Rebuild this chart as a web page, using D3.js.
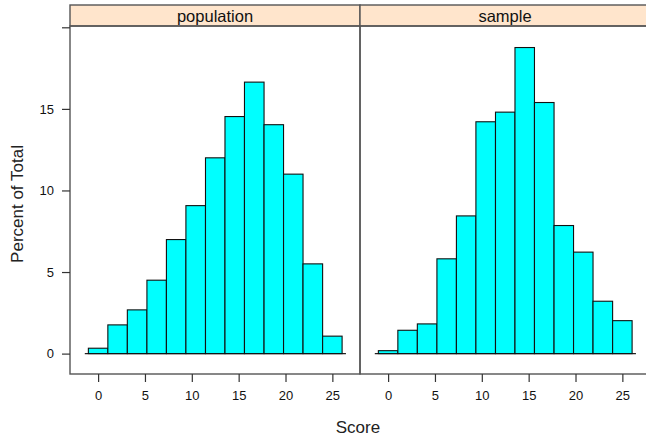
<!DOCTYPE html>
<html><head><meta charset="utf-8">
<script src="https://cdn.jsdelivr.net/npm/d3@7"></script>
<style>html,body{margin:0;padding:0;background:#fff;overflow:hidden}svg{display:block;font-family:"Liberation Sans",Arial,sans-serif}</style>
</head><body>
<svg id="c" width="646" height="439"></svg>
<script>
const panels = ["population", "sample"];
const binEdges = [-1.04, 1.04, 3.12, 5.21, 7.29, 9.37, 11.46, 13.54, 15.62, 17.71, 19.79, 21.87, 23.96, 26.04];
const populationPct = [0.33, 1.76, 2.68, 4.5, 6.99, 9.07, 12.0, 14.53, 16.64, 14.03, 11.0, 5.5, 1.07];
const samplePct = [0.18, 1.43, 1.82, 5.81, 8.44, 14.21, 14.8, 18.76, 15.39, 7.85, 6.22, 3.21, 2.02];
const xTicks = [0, 5, 10, 15, 20, 25];
const yTicks = [0, 5, 10, 15, 20];
const yTickLabels = ["0", "5", "10", "15", ""];
const seriesByPanel = [populationPct, samplePct];

const svg = d3.select("#c");
const panelW = 290, x0 = 70;
const plotTop = 5, stripH = 21, plotBottom = 374;
const y = d3.scaleLinear().domain([-1.25, 20.08]).range([plotBottom, plotTop + stripH]);

panels.forEach((name, i) => {
  const left = x0 + i * panelW;
  const x = d3.scaleLinear().domain([-3.0, 27.95]).range([left, left + panelW]);
  const g = svg.append("g");
  const vals = seriesByPanel[i];
  const bins = vals.map((v, k) => ({x0: binEdges[k], x1: binEdges[k + 1], v}));

  g.append("line")
    .attr("x1", x(-1.42)).attr("x2", x(26.45))
    .attr("y1", y(0)).attr("y2", y(0))
    .attr("stroke", "#222").attr("stroke-width", 1.3);

  g.selectAll("rect.bar").data(bins).join("rect")
    .attr("class", "bar")
    .attr("x", d => x(d.x0)).attr("width", d => x(d.x1) - x(d.x0))
    .attr("y", d => y(d.v)).attr("height", d => y(0) - y(d.v))
    .attr("fill", "#00FFFF").attr("stroke", "#111").attr("stroke-width", 1.1);

  g.append("rect").attr("x", left).attr("y", plotTop).attr("width", panelW).attr("height", stripH)
    .attr("fill", "#FFE5CC").attr("stroke", "#555").attr("stroke-width", 1.4);
  g.append("text").attr("x", left + panelW / 2).attr("y", plotTop + 17)
    .attr("text-anchor", "middle").attr("font-size", 16.5).attr("fill", "#111").text(name);

  g.append("rect").attr("x", left).attr("y", plotTop + stripH).attr("width", panelW).attr("height", plotBottom - plotTop - stripH)
    .attr("fill", "none").attr("stroke", "#555").attr("stroke-width", 1.4);

  const xa = g.append("g").attr("transform", `translate(0,${plotBottom})`)
    .call(d3.axisBottom(x).tickValues(xTicks).tickSize(8).tickPadding(9));
  xa.select(".domain").remove();
  xa.selectAll("line").attr("stroke", "#333").attr("stroke-width", 1.2);
  xa.selectAll("text").attr("font-size", 13).attr("fill", "#111").attr("font-family", '"Liberation Sans",Arial,sans-serif');

  if (i === 0) {
    const ya = g.append("g").attr("transform", `translate(${left},0)`)
      .call(d3.axisLeft(y).tickValues(yTicks).tickFormat((d, k) => yTickLabels[k]).tickSize(8).tickPadding(8));
    ya.select(".domain").remove();
    ya.selectAll("line").attr("stroke", "#333").attr("stroke-width", 1.2);
    ya.selectAll("text").attr("font-size", 13).attr("fill", "#111").attr("font-family", '"Liberation Sans",Arial,sans-serif');
  }
});

svg.append("text").attr("x", 358).attr("y", 433).attr("text-anchor", "middle")
  .attr("font-size", 17).attr("fill", "#222").text("Score");
svg.append("text").attr("transform", "translate(23,204) rotate(-90)").attr("text-anchor", "middle")
  .attr("font-size", 17).attr("fill", "#222").text("Percent of Total");
</script>
</body></html>
